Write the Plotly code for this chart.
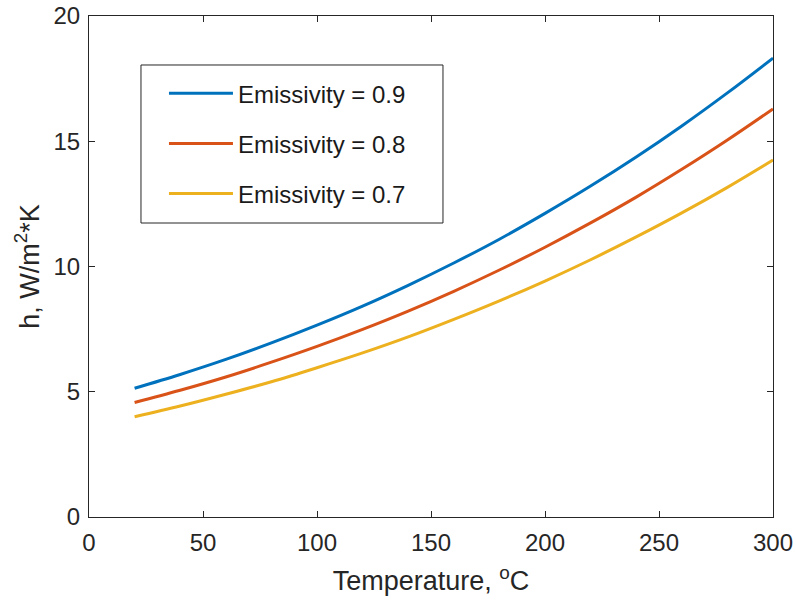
import plotly.graph_objects as go

temperature_c = [20, 40, 60, 80, 100, 120, 140, 160, 180, 200, 220, 240, 260, 280, 300]
h_eps09 = [5.14, 5.69, 6.29, 6.95, 7.66, 8.42, 9.25, 10.14, 11.09, 12.12, 13.21, 14.37, 15.61, 16.93, 18.32]
h_eps08 = [4.57, 5.06, 5.59, 6.18, 6.81, 7.49, 8.22, 9.01, 9.86, 10.77, 11.74, 12.77, 13.88, 15.05, 16.29]
h_eps07 = [4.00, 4.43, 4.90, 5.40, 5.96, 6.55, 7.19, 7.89, 8.63, 9.42, 10.27, 11.18, 12.14, 13.16, 14.25]

series = [
    ("Emissivity = 0.9", h_eps09, "#0072BD"),
    ("Emissivity = 0.8", h_eps08, "#D95319"),
    ("Emissivity = 0.7", h_eps07, "#EDB120"),
]

FONT = "Liberation Sans, Arial, Helvetica, sans-serif"
fig = go.Figure()
for i, (name, ys, col) in enumerate(series):
    fig.add_trace(go.Scatter(x=temperature_c, y=ys, mode="lines", name=name,
                             legendgroup=f"g{i}",
                             line=dict(color=col, width=3, shape="spline")))

axis_common = dict(showline=True, linecolor="#262626", linewidth=1, mirror="ticks",
                   ticks="inside", ticklen=6, tickcolor="#262626", showgrid=False,
                   zeroline=False, automargin=False, ticklabeloverflow="allow",
                   tickfont=dict(size=24, color="#262626", family=FONT))

fig.update_layout(
    width=796, height=604,
    margin=dict(l=89, r=23, t=16, b=87),
    plot_bgcolor="white", paper_bgcolor="white",
    font=dict(family=FONT, color="#262626"),
    xaxis=dict(range=[0, 300], tickvals=[0, 50, 100, 150, 200, 250, 300],
               ticklabelstandoff=4,
               title=dict(text="Temperature, <sup>o</sup>C", font=dict(size=27), standoff=16),
               **axis_common),
    yaxis=dict(range=[0, 20], tickvals=[0, 5, 10, 15, 20],
               ticklabelstandoff=3,
               title=dict(text="h, W/m<sup>2</sup>*K", font=dict(size=27), standoff=6),
               **axis_common),
    legend=dict(x=0.1096, y=0.890, xanchor="left", yanchor="top",
                bgcolor="rgba(0,0,0,0)", borderwidth=0,
                font=dict(size=24, color="#1a1a1a", family=FONT),
                tracegroupgap=16, traceorder="grouped", itemwidth=64),
    shapes=[dict(type="rect", xref="paper", yref="paper",
                 x0=0.076, x1=0.5175, y0=0.5868, y1=0.9022,
                 line=dict(color="#262626", width=1), fillcolor="white", layer="below")],
)

fig.write_html("out.html", config={"displayModeBar": False},
               post_script="document.body.style.margin='0';document.body.style.overflow='hidden';")
